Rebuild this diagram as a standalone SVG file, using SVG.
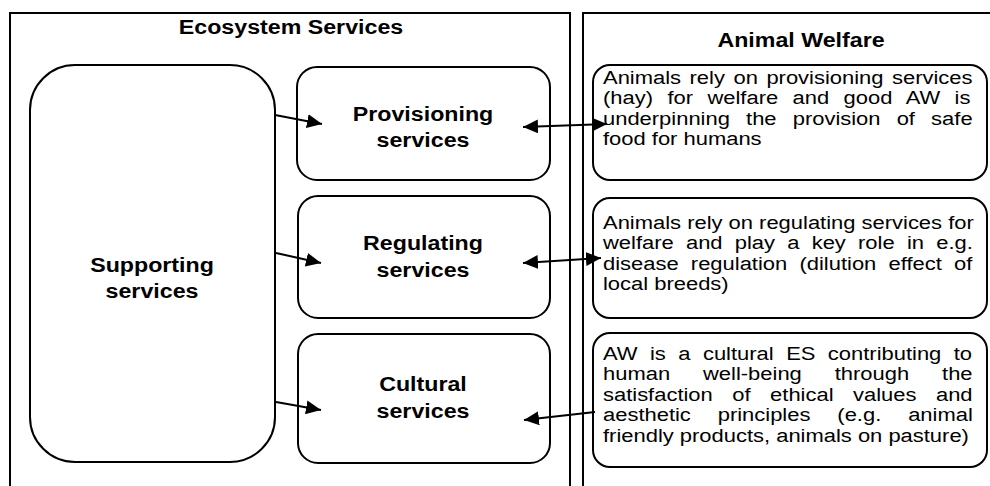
<svg xmlns="http://www.w3.org/2000/svg" width="990" height="486" viewBox="0 0 990 486">
<defs>
<style>
.panel{fill:none;stroke:#000;stroke-width:2}
.box{fill:#fff;stroke:#000;stroke-width:2}
.b{font-family:"Liberation Sans",Arial,sans-serif;font-weight:bold;font-size:19.5px;fill:#000;text-anchor:middle}
.t{font-family:"Liberation Sans",Arial,sans-serif;font-size:19px;fill:#000}
.c{fill:none;stroke:#000;stroke-width:2}
</style>
<marker id="ah" markerUnits="userSpaceOnUse" markerWidth="16" markerHeight="14" refX="15" refY="7" orient="auto-start-reverse">
<path d="M0,0 L15,7 L0,14 z" fill="#000"/>
</marker>
</defs>
<rect width="990" height="486" fill="#fff"/>
<g id="es-panel">
<path class="panel" d="M10,490 V13 H570 V490"/>
<text class="b" transform="translate(291,34) scale(1.19,1)">Ecosystem Services</text>
</g>
<g id="aw-panel">
<path class="panel" d="M583,490 V13 H995"/>
<text class="b" transform="translate(801,47) scale(1.19,1)">Animal Welfare</text>
</g>
<g id="supporting">
<rect class="box" x="30" y="65" width="245" height="397" rx="45"/>
<text class="b" transform="translate(152,272) scale(1.19,1)">Supporting</text>
<text class="b" transform="translate(152,298) scale(1.19,1)">services</text>
</g>
<g id="provisioning">
<rect class="box" x="297" y="67" width="253" height="113" rx="20"/>
<text class="b" transform="translate(423,121) scale(1.19,1)">Provisioning</text>
<text class="b" transform="translate(423,147) scale(1.19,1)">services</text>
</g>
<g id="regulating">
<rect class="box" x="298" y="196" width="252" height="122" rx="20"/>
<text class="b" transform="translate(423,250) scale(1.19,1)">Regulating</text>
<text class="b" transform="translate(423,277) scale(1.19,1)">services</text>
</g>
<g id="cultural">
<rect class="box" x="298" y="334" width="252" height="129" rx="20"/>
<text class="b" transform="translate(423,391) scale(1.19,1)">Cultural</text>
<text class="b" transform="translate(423,418) scale(1.19,1)">services</text>
</g>
<g id="aw-provisioning">
<rect class="box" x="593" y="65" width="394" height="115" rx="17"/>
<g transform="translate(603,0) scale(1.156,1)">
<text class="t" x="0" y="84" style="word-spacing:2.1px">Animals rely on provisioning services</text>
<text class="t" x="0" y="104.5" style="word-spacing:7.2px">(hay) for welfare and good AW is</text>
<text class="t" x="0" y="125" style="word-spacing:8.7px">underpinning the provision of safe</text>
<text class="t" x="0" y="145.5">food for humans</text>
</g>
</g>
<g id="aw-regulating">
<rect class="box" x="593" y="198" width="394" height="120" rx="17"/>
<g transform="translate(603,0) scale(1.156,1)">
<text class="t" x="0" y="229">Animals rely on regulating services for</text>
<text class="t" x="0" y="249.5" style="word-spacing:5.3px">welfare and play a key role in e.g.</text>
<text class="t" x="0" y="270" style="word-spacing:5.3px">disease regulation (dilution effect of</text>
<text class="t" x="0" y="290.5">local breeds)</text>
</g>
</g>
<g id="aw-cultural">
<rect class="box" x="593" y="333" width="394" height="134" rx="17"/>
<g transform="translate(603,0) scale(1.156,1)">
<text class="t" x="0" y="360" style="word-spacing:5.5px">AW is a cultural ES contributing to</text>
<text class="t" x="0" y="380.5" style="word-spacing:23.2px">human well-being through the</text>
<text class="t" x="0" y="401" style="word-spacing:11.6px">satisfaction of ethical values and</text>
<text class="t" x="0" y="421.5" style="word-spacing:18px">aesthetic principles (e.g. animal</text>
<text class="t" x="0" y="442">friendly products, animals on pasture)</text>
</g>
</g>
<g id="connectors">
<line class="c" x1="275" y1="115" x2="322" y2="124" marker-end="url(#ah)"/>
<line class="c" x1="276" y1="253" x2="321" y2="263" marker-end="url(#ah)"/>
<line class="c" x1="276" y1="402" x2="321" y2="410" marker-end="url(#ah)"/>
<line class="c" x1="523" y1="127" x2="607" y2="124" marker-start="url(#ah)" marker-end="url(#ah)"/>
<line class="c" x1="523" y1="263" x2="601" y2="258" marker-start="url(#ah)" marker-end="url(#ah)"/>
<line class="c" x1="595" y1="412" x2="524" y2="420" marker-end="url(#ah)"/>
</g>
</svg>
